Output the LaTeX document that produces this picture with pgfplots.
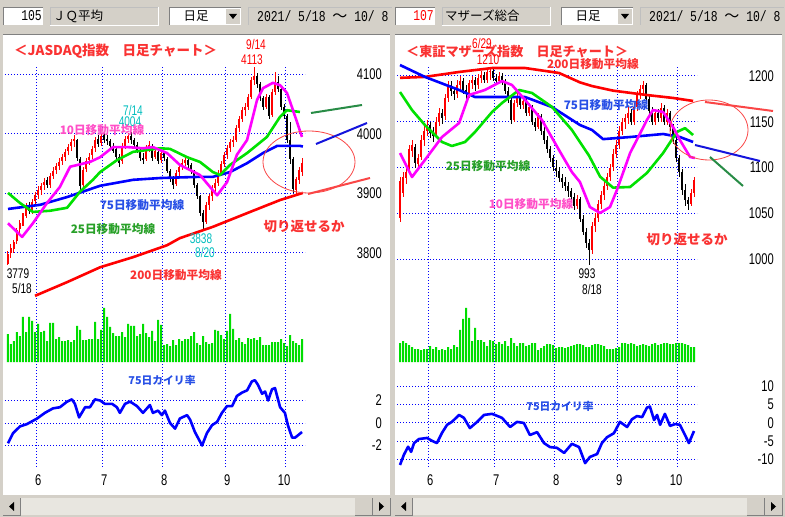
\documentclass[border=0pt]{standalone}
\usepackage{pgfplots}
\pgfplotsset{compat=1.18}
\usepackage{pgfplotstable}
\usepackage{fontspec}
\setmainfont{Liberation Sans}
\newfontfamily\numfont{Liberation Sans}[FakeStretch=0.72]
\newfontfamily\monofont{Liberation Mono}[FakeStretch=0.76]
\newfontfamily\jp{Noto Sans CJK JP}

\definecolor{winGray}{RGB}{212,208,200}
\definecolor{track}{RGB}{232,230,224}
\definecolor{gridBlue}{RGB}{0,0,255}
\definecolor{candleRed}{RGB}{255,0,0}
\definecolor{maRed}{RGB}{255,0,0}
\definecolor{maBlue}{RGB}{0,0,255}
\definecolor{maGreen}{RGB}{0,225,0}
\definecolor{maPink}{RGB}{255,0,255}
\definecolor{volGreen}{RGB}{0,221,0}
\definecolor{txtRed}{RGB}{250,50,50}
\definecolor{txtPink}{RGB}{255,80,200}
\definecolor{txtBlue}{RGB}{40,80,230}
\definecolor{txtGreen}{RGB}{40,160,40}
\definecolor{txtCyan}{RGB}{0,190,190}
\definecolor{penGreen}{RGB}{40,140,70}
\definecolor{penBlue}{RGB}{20,20,220}
\definecolor{penRed}{RGB}{250,70,70}

\newcommand{\tickfont}{\numfont\fontsize{15.5}{15.5}\selectfont}
\newcommand{\smallnum}{\numfont\fontsize{14}{14}\selectfont}
\newcommand{\headnum}{\monofont\fontsize{15}{15}\selectfont}

% JASDAQ index, daily, 5/18 - 10/8 (i = trading day)
\pgfplotstableread{
i o h l c
0 3782 3803 3779 3798
1 3800 3815 3792 3808
2 3806 3822 3800 3818
3 3820 3842 3815 3838
4 3840 3856 3832 3850
5 3852 3868 3845 3862
6 3862 3884 3858 3878
7 3880 3886 3866 3870
8 3870 3890 3865 3886
9 3888 3902 3880 3897
10 3898 3912 3890 3906
11 3906 3918 3898 3912
12 3914 3926 3906 3920
13 3922 3928 3910 3914
14 3915 3935 3910 3930
15 3930 3944 3924 3938
16 3940 3952 3932 3946
17 3946 3960 3940 3953
18 3954 3966 3948 3961
19 3962 3975 3955 3970
20 3972 3984 3964 3978
21 3980 3992 3972 3986
22 3988 3998 3978 3992
23 3990 3992 3955 3960
24 3958 3962 3905 3912
25 3914 3945 3910 3940
26 3942 3960 3936 3955
27 3956 3968 3948 3962
28 3964 3980 3958 3975
29 3976 3995 3970 3990
30 3992 3998 3978 3984
31 3985 4000 3980 3996
32 3998 4003 3985 3990
33 3992 3998 3982 3988
34 3988 3992 3975 3980
35 3980 3985 3968 3972
36 3974 3978 3958 3962
37 3962 3966 3945 3952
38 3954 3985 3950 3980
39 3980 3996 3975 3992
40 3992 4002 3985 3996
41 3996 4004 3984 3990
42 3990 3994 3978 3982
43 3982 3986 3968 3972
44 3972 3976 3955 3960
45 3960 3968 3950 3956
46 3958 3982 3955 3976
47 3976 3988 3970 3982
48 3980 3984 3955 3960
49 3962 3978 3958 3972
50 3970 3974 3950 3955
51 3956 3972 3952 3968
52 3968 3972 3955 3960
53 3958 3962 3935 3938
54 3938 3942 3920 3925
55 3925 3930 3908 3915
56 3916 3940 3912 3935
57 3936 3950 3930 3945
58 3946 3958 3940 3952
59 3952 3962 3946 3956
60 3956 3960 3942 3948
61 3948 3952 3932 3938
62 3938 3940 3910 3915
63 3915 3918 3890 3895
64 3895 3898 3862 3868
65 3868 3872 3838 3852
66 3852 3885 3848 3880
67 3880 3900 3872 3895
68 3895 3915 3888 3910
69 3910 3925 3900 3918
70 3918 3940 3912 3935
71 3935 3955 3930 3950
72 3950 3970 3945 3965
73 3965 3982 3958 3976
74 3976 3992 3970 3986
75 3986 3996 3978 3990
76 3990 4015 3986 4010
77 4010 4030 4004 4026
78 4026 4045 4020 4040
79 4040 4052 4030 4046
80 4046 4068 4040 4062
81 4062 4095 4058 4090
82 4090 4113 4082 4098
83 4098 4102 4078 4084
84 4084 4088 4055 4060
85 4060 4064 4040 4046
86 4046 4068 4042 4062
87 4062 4066 4025 4030
88 4032 4075 4028 4070
89 4070 4105 4066 4088
90 4088 4098 4070 4076
91 4076 4080 4040 4046
92 4046 4050 4025 4030
93 4030 4034 3985 3990
94 3990 4020 3950 3958
95 3958 3962 3900 3908
96 3906 3928 3898 3924
97 3922 3944 3916 3940
98 3936 3960 3930 3952
}\jqdata

% Mothers index
\pgfplotstableread{
i o h l c
0 1045 1090 1040 1085
1 1072 1095 1068 1090
2 1088 1100 1082 1095
3 1098 1125 1095 1120
4 1118 1130 1112 1125
5 1122 1126 1100 1105
6 1104 1115 1098 1110
7 1112 1135 1108 1130
8 1130 1145 1124 1140
9 1140 1152 1134 1146
10 1146 1150 1132 1138
11 1140 1144 1128 1134
12 1136 1155 1132 1150
13 1150 1165 1145 1160
14 1160 1164 1148 1154
15 1156 1180 1152 1176
16 1176 1195 1172 1190
17 1190 1194 1178 1184
18 1184 1188 1174 1180
19 1180 1196 1176 1190
20 1190 1200 1185 1195
21 1195 1198 1180 1185
22 1185 1190 1174 1180
23 1180 1196 1176 1192
24 1192 1200 1186 1196
25 1196 1199 1184 1190
26 1190 1202 1186 1198
27 1198 1206 1192 1201
28 1201 1204 1192 1196
29 1196 1208 1192 1204
30 1204 1210 1196 1206
31 1206 1208 1194 1198
32 1198 1202 1190 1195
33 1195 1204 1192 1200
34 1200 1203 1190 1194
35 1194 1197 1180 1184
36 1184 1188 1170 1174
37 1174 1178 1148 1152
38 1152 1174 1150 1170
39 1170 1182 1166 1176
40 1176 1180 1164 1168
41 1168 1178 1164 1173
42 1173 1176 1156 1160
43 1160 1170 1156 1166
44 1166 1168 1146 1150
45 1150 1154 1140 1144
46 1144 1160 1142 1156
47 1156 1158 1136 1140
48 1140 1144 1126 1130
49 1130 1134 1116 1120
50 1120 1124 1106 1110
51 1110 1114 1096 1100
52 1100 1108 1090 1096
53 1096 1100 1084 1089
54 1089 1093 1078 1084
55 1084 1090 1074 1080
56 1080 1084 1068 1074
57 1074 1078 1062 1068
58 1068 1072 1054 1058
59 1058 1070 1055 1066
60 1066 1068 1040 1044
61 1044 1048 1026 1030
62 1030 1034 1012 1018
63 1018 1022 993 1010
64 1010 1040 1005 1036
65 1036 1050 1030 1045
66 1045 1064 1040 1060
67 1060 1074 1055 1070
68 1070 1084 1065 1080
69 1080 1094 1075 1090
70 1090 1104 1085 1100
71 1100 1120 1096 1115
72 1115 1130 1110 1125
73 1125 1145 1120 1140
74 1140 1154 1135 1150
75 1150 1158 1142 1154
76 1154 1166 1148 1160
77 1160 1164 1146 1150
78 1150 1170 1146 1166
79 1166 1184 1162 1180
80 1180 1190 1175 1186
81 1186 1195 1180 1190
82 1190 1192 1172 1175
83 1175 1178 1158 1162
84 1162 1166 1146 1150
85 1150 1164 1146 1160
86 1160 1164 1150 1154
87 1154 1170 1150 1165
88 1165 1168 1146 1150
89 1150 1164 1146 1160
90 1160 1162 1140 1144
91 1144 1148 1126 1130
92 1130 1134 1106 1110
93 1110 1114 1090 1095
94 1095 1098 1070 1075
95 1075 1082 1058 1064
96 1064 1068 1054 1060
97 1060 1076 1058 1072
98 1072 1090 1068 1086
}\mzdata

% volume (bar height), v = JASDAQ, w = Mothers
\pgfplotstableread{
i v w
0 28 19
1 18 21
2 21 19
3 30 17
4 26 15
5 45 13
6 30 13
7 45 12
8 41 13
9 30 13
10 38 16
11 30 13
12 31 15
13 21 12
14 39 13
15 39 12
16 23 15
17 25 13
18 21 17
19 21 15
20 22 32
21 20 43
22 22 54
23 36 44
24 32 21
25 22 34
26 22 22
27 23 22
28 23 20
29 40 16
30 23 22
31 32 21
32 54 18
33 45 20
34 35 18
35 29 21
36 26 16
37 26 24
38 30 19
39 25 16
40 38 19
41 36 19
42 36 16
43 26 17
44 28 19
45 38 19
46 29 12
47 25 14
48 31 16
49 21 18
50 42 18
51 37 17
52 17 14
53 18 15
54 16 15
55 22 14
56 17 15
57 23 16
58 21 17
59 23 18
60 23 18
61 26 17
62 30 15
63 19 15
64 17 17
65 26 18
66 20 18
67 18 17
68 19 16
69 32 13
70 31 13
71 27 13
72 23 14
73 31 15
74 48 19
75 33 19
76 22 18
77 24 19
78 20 18
79 18 16
80 24 17
81 23 18
82 24 17
83 22 16
84 25 18
85 17 19
86 17 17
87 17 18
88 20 19
89 20 19
90 20 18
91 23 18
92 19 19
93 16 19
94 27 19
95 21 18
96 19 17
97 17 15
98 23 15
}\voldata

\pgfplotsset{
  chartbase/.style={scale only axis, width=300pt, xmin=-1, xmax=99,
    anchor=north west, clip=false,
    axis line style={draw=none}, tick style={draw=none}, xtick=\empty,
    grid style={gridBlue, line width=1pt, dash pattern=on 1pt off 2pt},
    yticklabel pos=right,
    yticklabel style={anchor=east, inner sep=0pt, xshift=77pt, font=\tickfont},
    scaled y ticks=false,
    /pgf/number format/1000 sep={},
    /pgf/number format/assume math mode=true},
  wick/.style={draw=none, forget plot,
    error bars/y dir=both, error bars/y explicit, error bars/error mark=none,
    error bars/error bar style={line width=1pt, draw=#1}},
  body/.style={draw=none, forget plot,
    error bars/y dir=both, error bars/y explicit, error bars/error mark=none,
    error bars/error bar style={line width=2pt, draw=#1}},
  ma/.style={#1, line width=2.6pt, line join=round},
  kairi/.style={maBlue, line width=2.6pt, line join=round},
}

\begin{document}
\begin{tikzpicture}
% ---------- window chrome ----------
\begin{scope}[x=1pt,y=-1pt,yshift=517pt]
  \fill[winGray] (0,0) rectangle (785,517);
  \foreach \ox in {0,392}{
    \begin{scope}[xshift=\ox pt]
      \fill[white] (3,34) rectangle (390,495);
      \draw[gray] (3,34) -- (390,34);
      \fill[white] (3,7) rectangle (43,25);
      \draw[gray] (3,25) |- (43,7);
      \draw[gray!50] (50,25) |- (158,7);
      \draw[white] (50,25) -| (158,7);
      \fill[white] (169,7) rectangle (241,25);
      \draw[gray] (169,25) |- (241,7);
      \fill[winGray] (226,9) rectangle (240,24);
      \fill[black] (229,14) -- (237,14) -- (233,19) -- cycle;
      \draw[gray!50] (248,25) |- (392,7);
      \node[font=\jp\fontsize{12.5}{12.5}\selectfont] at (196,16) {日足};
      \node[anchor=west, inner sep=0, font=\headnum] at (257,16) {2021/ 5/18 {\jp ～} 10/ 8};
      \fill[track] (20,498) rectangle (355,515);
      \fill[winGray] (3,498) rectangle (20,515);
      \draw[gray] (3,515) -| (20,498);
      \fill[black] (9,506.5) -- (14,502) -- (14,511) -- cycle;
      \fill[winGray] (355,498) rectangle (372,515);
      \draw[gray] (355,515) -| (372,498);
      \fill[winGray] (373,498) rectangle (390,515);
      \draw[gray] (373,515) -| (390,498);
      \fill[black] (384,506.5) -- (379,502) -- (379,511) -- cycle;
    \end{scope}
  }
  \node[anchor=east, inner sep=0, font=\headnum] at (42,16) {105};
  \node[anchor=west, inner sep=0, font=\jp\fontsize{12.5}{12.5}\selectfont] at (53,16) {ＪＱ平均};
  \node[anchor=east, inner sep=0, red, font=\headnum] at (434,16) {107};
  \node[anchor=west, inner sep=0, font=\jp\fontsize{12.5}{12.5}\selectfont] at (445,16) {マザーズ総合};
\end{scope}

% ================= LEFT PANEL: JASDAQ =================
\begin{axis}[chartbase, at={(5pt,452pt)}, height=402pt, ymin=0, ymax=1,
  xtick={9.5,31.5,51.5,72.5,92.5}, xticklabels={6,7,8,9,10}, xmajorgrids,
  ytick=\empty,
  xticklabel style={anchor=east, inner sep=0pt, xshift=5pt, yshift=-13pt, font=\tickfont}]
\end{axis}

\begin{axis}[chartbase, at={(5pt,482pt)}, height=265pt, ymin=3721, ymax=4166.4,
  ytick={3800,3900,4000,4100}, ymajorgrids]
  \addplot[restrict expr to domain={\thisrow{c}-\thisrow{o}}{-100000:-0.5}, wick=black]
    table[x=i, y expr={(\thisrow{h}+\thisrow{l})/2}, y error expr={(\thisrow{h}-\thisrow{l})/2}] {\jqdata};
  \addplot[restrict expr to domain={\thisrow{c}-\thisrow{o}}{-100000:-0.5}, body=black]
    table[x=i, y expr={(\thisrow{o}+\thisrow{c})/2}, y error expr={(\thisrow{o}-\thisrow{c})/2}] {\jqdata};
  \addplot[restrict expr to domain={\thisrow{c}-\thisrow{o}}{0:100000}, wick=candleRed]
    table[x=i, y expr={(\thisrow{h}+\thisrow{l})/2}, y error expr={(\thisrow{h}-\thisrow{l})/2}] {\jqdata};
  \addplot[restrict expr to domain={\thisrow{c}-\thisrow{o}}{0:100000}, body=candleRed]
    table[x=i, y expr={(\thisrow{o}+\thisrow{c})/2}, y error expr={(\thisrow{c}-\thisrow{o})/2}] {\jqdata};
  % 200-day
  \addplot[ma=maRed] coordinates {(9,3728) (19.7,3751) (30.7,3776) (41.7,3793) (53,3813) (57.3,3825) (68.3,3844) (79.7,3867) (90.7,3889) (98.3,3901)};
  % 75-day
  \addplot[ma=maBlue] coordinates {(0,3874) (10.7,3881) (19.7,3894) (30.7,3913) (41.7,3923) (50.7,3926) (64,3928) (68.3,3928) (74,3936) (79.7,3951) (85,3968) (89.7,3980) (97.3,3980) (98.3,3979)};
  % 25-day
  \addplot[ma=maGreen] coordinates {(0,3901) (4,3884) (8.3,3869) (14,3871) (19.7,3876) (24,3903) (28.3,3923) (30.7,3936) (36.3,3956) (41.7,3970) (50.7,3976) (54,3975) (59.7,3961) (64,3953) (68.3,3936) (70.7,3931) (74,3948) (79.7,3968) (86.3,3995) (90.7,4029) (93,4040) (97.3,4037)};
  % 10-day
  \addplot[ma=maPink] coordinates {(0,3850) (4.7,3827) (8.3,3850) (13,3884) (17.3,3911) (20.7,3945) (27.3,3953) (30.7,3961) (35,3978) (39.7,3978) (45,3976) (48.3,3978) (53,3968) (57.3,3948) (64,3931) (69.7,3897) (73,3919) (76.3,3965) (79.7,3990) (83,4057) (85,4077) (88.3,4086) (90.7,4082) (93,4069) (95,4040) (98,3995)};
\end{axis}

\begin{axis}[chartbase, at={(5pt,217pt)}, height=62pt, ymin=0, ymax=62, ytick=\empty,
  ybar, bar width=2pt]
  \addplot[fill=volGreen, draw=none] table[x=i, y=v] {\voldata};
\end{axis}

\begin{axis}[chartbase, at={(5pt,147pt)}, height=97pt, ymin=-3.91, ymax=4.71,
  ytick={-2,0,2}, ymajorgrids]
  \addplot[kairi] coordinates {(0,-1.8) (1.7,-0.9) (4,-0.3) (6.3,-0.1) (9.7,0.4) (12.3,0.9) (15,1.3) (17.3,1.4) (19.7,1.9) (21.3,2.1) (22.3,1.7) (23.7,0.5) (25.7,1.4) (27.3,1.4) (29,2.1) (30.7,2.0) (32.3,1.7) (34.7,1.7) (36.3,1.4) (37.3,0.9) (39,1.7) (40.7,1.9) (43,1.5) (45,0.9) (47.3,1.6) (48.3,0.9) (50,1.1) (51.3,0.7) (52.3,1.1) (54,0) (55.7,-0.5) (57.3,0.4) (59.7,0.7) (60.7,0.3) (62.3,-0.8) (64.7,-2.0) (66.3,-0.9) (68,-0.2) (69.7,0.1) (71.3,0.9) (73,1.5) (74.7,1.5) (76.3,2.4) (78,2.7) (79.7,2.9) (81.3,3.7) (82.3,3.8) (83.3,3.4) (84.7,2.6) (85.7,2.8) (86.7,2.0) (88,3.0) (89,3.1) (90.7,1.4) (92.3,0.9) (93.3,-0.2) (94.7,-1.3) (95.7,-1.3) (98,-0.8)};
\end{axis}

% ================= RIGHT PANEL: Mothers =================
\begin{axis}[chartbase, at={(397pt,452pt)}, height=402pt, ymin=0, ymax=1,
  xtick={9.5,31.5,51.5,72.5,92.5}, xticklabels={6,7,8,9,10}, xmajorgrids,
  ytick=\empty,
  xticklabel style={anchor=east, inner sep=0pt, xshift=5pt, yshift=-13pt, font=\tickfont}]
\end{axis}

\begin{axis}[chartbase, at={(397pt,482pt)}, height=265pt, ymin=955.2, ymax=1244.8,
  ytick={1000,1050,1100,1150,1200}, ymajorgrids]
  \addplot[restrict expr to domain={\thisrow{c}-\thisrow{o}}{-100000:-0.5}, wick=black]
    table[x=i, y expr={(\thisrow{h}+\thisrow{l})/2}, y error expr={(\thisrow{h}-\thisrow{l})/2}] {\mzdata};
  \addplot[restrict expr to domain={\thisrow{c}-\thisrow{o}}{-100000:-0.5}, body=black]
    table[x=i, y expr={(\thisrow{o}+\thisrow{c})/2}, y error expr={(\thisrow{o}-\thisrow{c})/2}] {\mzdata};
  \addplot[restrict expr to domain={\thisrow{c}-\thisrow{o}}{0:100000}, wick=candleRed]
    table[x=i, y expr={(\thisrow{h}+\thisrow{l})/2}, y error expr={(\thisrow{h}-\thisrow{l})/2}] {\mzdata};
  \addplot[restrict expr to domain={\thisrow{c}-\thisrow{o}}{0:100000}, body=candleRed]
    table[x=i, y expr={(\thisrow{o}+\thisrow{c})/2}, y error expr={(\thisrow{c}-\thisrow{o})/2}] {\mzdata};
  \addplot[ma=maRed] coordinates {(0,1198) (8.3,1199) (19.7,1204.4) (30.7,1208.7) (41.7,1208.7) (53,1203.3) (60,1193) (64,1189) (71,1184) (82.3,1179.2) (91,1176) (97.7,1172.7)};
  \addplot[ma=maBlue] coordinates {(0,1212) (8.3,1199) (19.7,1184.7) (25,1177) (30.7,1177) (41.7,1177) (50.7,1166) (60,1146.4) (64,1141) (67.7,1131) (76.7,1133.3) (87.7,1136.6) (93.3,1133.3) (97.7,1127.9)};
  \addplot[ma=maGreen] coordinates {(0,1182.5) (4,1162.8) (8.3,1146.4) (14,1127.9) (17.3,1123.5) (21.7,1127.9) (25,1138.8) (30.7,1160.7) (34,1170.5) (39.7,1184.7) (44,1181.4) (50.7,1166.1) (57.3,1141) (63,1113) (66.7,1090) (71,1078) (76.7,1078.7) (82.3,1094) (87.7,1115.8) (92.3,1138.8) (95,1143) (97.7,1135.5)};
  \addplot[ma=maPink] coordinates {(0,1115.8) (4,1089.6) (8.3,1108.2) (14,1133.3) (19.7,1148.6) (23,1179.2) (28.3,1184.7) (34,1194.5) (37.3,1190.2) (41.7,1173.8) (47.3,1151.9) (53,1119.1) (57.3,1095) (60,1084) (63.3,1056.8) (66.7,1050.3) (70,1056.8) (72.3,1075.4) (76.7,1115.8) (82.3,1151.9) (84.3,1162.8) (87.7,1160.7) (91,1144.3) (93.3,1130) (96.7,1111.5) (98.3,1110.4)};
\end{axis}

\begin{axis}[chartbase, at={(397pt,217pt)}, height=62pt, ymin=0, ymax=62, ytick=\empty,
  ybar, bar width=2pt]
  \addplot[fill=volGreen, draw=none] table[x=i, y=w] {\voldata};
\end{axis}

\begin{axis}[chartbase, at={(397pt,147pt)}, height=97pt, ymin=-12.05, ymax=14.5,
  ytick={-10,-5,0,5,10}, ymajorgrids]
  \addplot[kairi] coordinates {(0,-11.5) (1.3,-8.7) (2.7,-6.5) (3.7,-7.9) (4.7,-5.5) (6.3,-4.4) (9,-4.1) (10.7,-4.9) (12.3,-5.5) (14,-2.7) (15.7,-0.5) (17.3,0.3) (19.7,2.2) (21.3,1.4) (23.3,-1.4) (25.7,0.3) (28,2.2) (30.7,2.5) (34,1.4) (36.7,-1.1) (39,0.3) (41.3,0) (43.3,-3.3) (45.7,-2.5) (48,-5.5) (50,-6.6) (52.3,-6.8) (54.7,-8.2) (57.3,-5.7) (59.7,-6.6) (61.7,-11) (63.3,-9.3) (65.7,-8.5) (67.3,-5.5) (69,-3.9) (71.3,-2.8) (73.3,0.3) (75.7,-1.1) (77.3,1.0) (79,1.9) (80.7,1.6) (82.3,4.2) (83.3,4.5) (84.7,0.8) (85.7,2.2) (86.7,-0.5) (88.3,2.5) (90,-0.8) (91.7,-0.3) (93.3,-0.5) (94.7,-2.8) (96.3,-5.5) (98,-2.2)};
\end{axis}

% ---------- annotations ----------
\begin{scope}[x=1pt,y=-1pt,yshift=517pt]
  \tikzset{jpb/.style={font=\jp\bfseries\fontsize{#1}{#1}\selectfont, inner sep=0}}
  % left
  \node[jpb=13.5, txtRed, anchor=west] at (14,51) {＜JASDAQ指数　日足チャート＞};
  \node[red, font=\smallnum, inner sep=0] at (256,45) {9/14};
  \node[red, font=\smallnum, inner sep=0] at (252,60) {4113};
  \node[txtCyan, font=\smallnum, inner sep=0] at (133,110) {7/14};
  \node[txtCyan, font=\smallnum, inner sep=0] at (130,122) {4004};
  \node[jpb=11.7, txtPink] at (102,130) {10日移動平均線};
  \node[jpb=11.7, txtBlue] at (142,205) {75日移動平均線};
  \node[jpb=11.7, txtGreen] at (113,229) {25日移動平均線};
  \node[jpb=11.7, txtRed] at (176,275) {200日移動平均線};
  \node[font=\smallnum, inner sep=0] at (18,274) {3779};
  \node[font=\smallnum, inner sep=0] at (22,288) {5/18};
  \node[txtCyan, font=\smallnum, inner sep=0] at (201,239) {3838};
  \node[txtCyan, font=\smallnum, inner sep=0] at (205,252) {8/20};
  \node[jpb=13.5, txtRed] at (304,227) {切り返せるか};
  \node[jpb=10.8, txtBlue] at (162,380) {75日カイリ率};
  \draw[penRed, line width=0.8pt] (309,162) ellipse [x radius=46, y radius=31];
  \draw[penGreen, line width=2pt] (311,113) -- (362,105);
  \draw[penBlue, line width=2pt] (316,144) -- (367,123);
  \draw[penRed, line width=2pt] (308,194) -- (370,178);
  % right
  \node[jpb=13.1, txtRed, anchor=west] at (406,51) {＜東証マザーズ指数　日足チャート＞};
  \node[red, font=\smallnum, inner sep=0] at (482,44) {6/29};
  \node[red, font=\smallnum, inner sep=0] at (488,60) {1210};
  \node[jpb=11.7, txtRed] at (593,64) {200日移動平均線};
  \node[jpb=11.7, txtBlue] at (606,105) {75日移動平均線};
  \node[jpb=11.7, txtGreen] at (488,166) {25日移動平均線};
  \node[jpb=11.7, txtPink] at (531,204) {10日移動平均線};
  \node[font=\smallnum, inner sep=0] at (587,274) {993};
  \node[font=\smallnum, inner sep=0] at (592,289) {8/18};
  \node[jpb=13.5, txtRed] at (687,240) {切り返せるか};
  \node[jpb=10.8, txtBlue] at (560,406) {75日カイリ率};
  \draw[penRed, line width=0.8pt] (709,130) ellipse [x radius=39, y radius=30];
  \draw[penRed, line width=2pt] (705,102) -- (773,111);
  \draw[penBlue, line width=2pt] (695,145) -- (760,161);
  \draw[penGreen, line width=2pt] (710,157) -- (743,186);
\end{scope}
\end{tikzpicture}
\end{document}
